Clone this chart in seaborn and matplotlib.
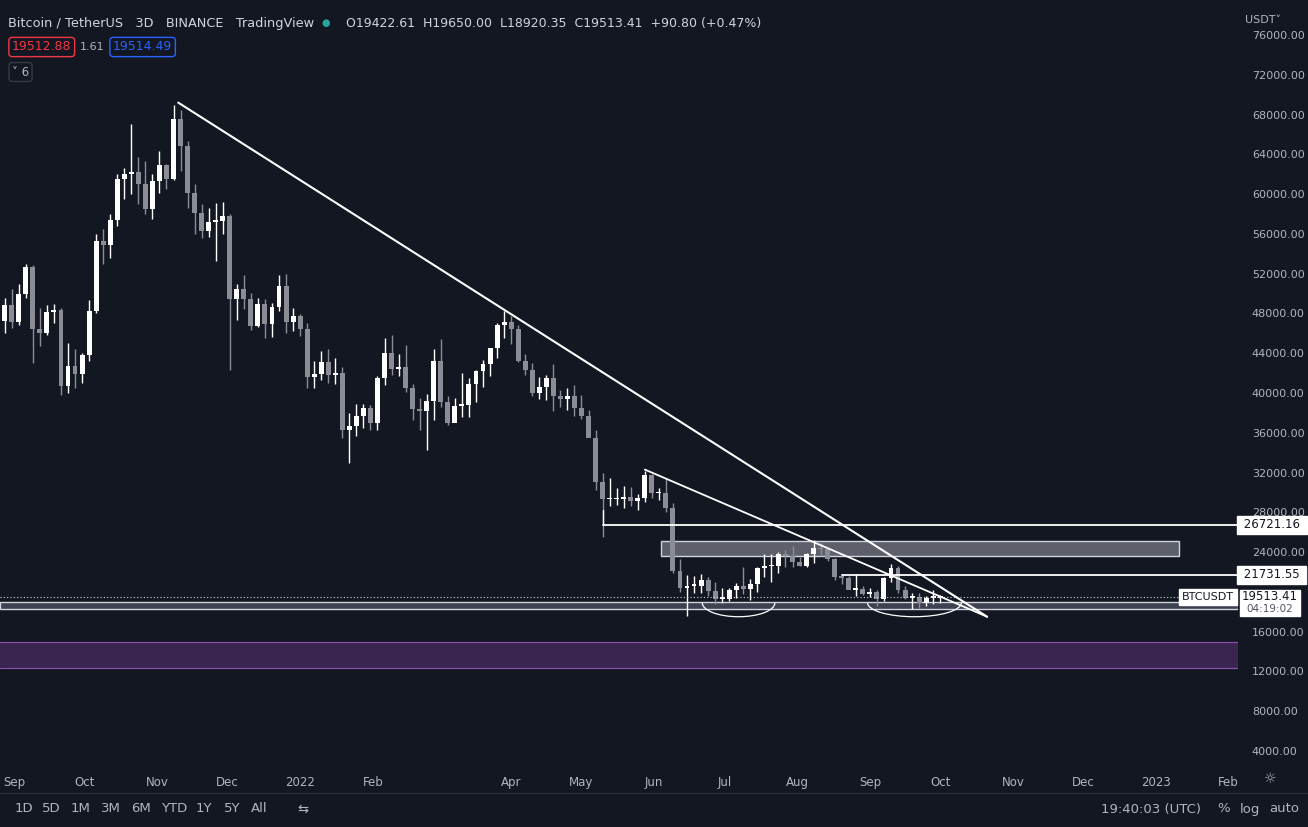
import numpy as np
import pandas as pd
import matplotlib
matplotlib.use("Agg")
import matplotlib.pyplot as plt
import matplotlib.dates as mdates
from matplotlib.patches import Arc, Rectangle
import seaborn as sns

# 3D BTCUSDT candles, values in thousands of USDT
closes = [48.8, 47.1, 50.0, 52.7, 46.4, 46.0, 48.1, 48.3, 40.7, 42.7, 41.9, 43.8, 48.2, 55.3, 54.9, 57.4,
          61.5, 62.0, 62.2, 61.0, 58.5, 61.3, 62.9, 61.5, 67.5, 64.8, 60.1, 58.1, 56.3, 57.2, 57.3, 57.8,
          49.4, 50.5, 49.4, 46.7, 48.9, 46.9, 48.6, 50.8, 47.1, 47.7, 46.4, 41.6, 41.9, 43.1, 41.8, 42.0,
          36.3, 36.7, 37.7, 38.5, 37.0, 41.5, 44.0, 42.4, 42.6, 40.5, 38.4, 38.2, 39.2, 43.2, 39.1, 37.0,
          38.7, 38.8, 40.9, 42.2, 42.9, 44.5, 46.8, 47.1, 46.4, 43.2, 42.3, 40.0, 40.6, 41.5, 39.7, 39.4,
          39.7, 38.5, 37.7, 35.5, 31.0, 29.3, 29.3, 29.3, 29.5, 29.1, 29.4, 31.8, 29.9, 29.9, 28.4, 22.1,
          20.4, 20.6, 20.6, 21.2, 20.1, 19.3, 19.3, 20.2, 20.6, 20.3, 20.8, 22.4, 22.6, 22.6, 23.8, 23.6,
          23.0, 22.6, 23.8, 24.4, 24.3, 23.3, 21.5, 21.4, 20.2, 20.3, 19.8, 20.0, 19.3, 21.4, 22.4, 20.2,
          19.4, 19.5, 18.9, 19.4, 19.4, 19.5]
highs = [49.5, 50.5, 51.0, 53.0, 52.9, 48.5, 48.8, 48.9, 48.5, 45.0, 44.4, 44.0, 49.3, 56.0, 56.5, 58.0,
         62.0, 62.6, 67.0, 63.7, 63.3, 62.0, 64.3, 63.0, 69.0, 68.5, 65.3, 61.0, 59.0, 58.6, 59.1, 59.2,
         58.0, 51.0, 51.9, 50.1, 49.5, 49.4, 49.0, 51.9, 52.0, 48.5, 47.9, 47.0, 43.2, 44.2, 44.4, 43.5,
         42.6, 38.0, 38.9, 38.9, 38.8, 41.7, 45.5, 45.8, 43.9, 44.8, 40.9, 39.5, 39.9, 44.4, 45.4, 39.7,
         39.5, 42.0, 41.5, 42.3, 43.3, 44.5, 47.0, 48.2, 47.7, 46.8, 43.9, 43.0, 41.6, 41.8, 42.9, 40.3,
         40.5, 40.8, 39.8, 38.3, 36.3, 32.0, 31.4, 30.4, 30.6, 30.5, 29.8, 32.2, 31.9, 30.4, 31.4, 28.9,
         23.3, 21.7, 21.6, 21.8, 21.5, 21.0, 20.4, 20.4, 20.9, 22.5, 21.3, 22.5, 23.8, 23.8, 24.0, 24.2,
         24.6, 23.5, 23.9, 25.2, 24.9, 24.4, 23.4, 21.8, 21.6, 21.8, 20.6, 20.4, 20.2, 21.5, 22.8, 22.6,
         20.6, 19.9, 19.9, 19.6, 20.2, 19.7]
lows = [46.0, 46.5, 46.8, 49.5, 43.0, 44.7, 45.8, 47.0, 39.8, 40.0, 40.5, 41.0, 43.2, 48.0, 53.0, 53.6,
        56.8, 59.5, 60.0, 59.0, 58.0, 57.5, 60.1, 60.5, 61.4, 62.3, 58.6, 56.0, 55.6, 55.7, 53.3, 56.0,
        42.3, 47.3, 48.4, 46.3, 46.6, 45.5, 45.6, 48.2, 46.0, 46.2, 45.7, 40.5, 40.5, 41.3, 41.0, 40.9,
        35.5, 33.0, 35.7, 36.5, 36.3, 36.3, 40.8, 41.8, 41.7, 40.1, 37.3, 36.3, 34.3, 37.3, 38.6, 36.8,
        37.1, 37.6, 37.6, 39.1, 40.6, 41.7, 43.5, 45.5, 44.9, 43.1, 41.8, 39.7, 39.4, 39.3, 38.2, 38.6,
        38.3, 37.7, 37.4, 35.6, 30.2, 25.5, 28.6, 28.7, 28.4, 28.6, 28.2, 29.0, 29.4, 29.2, 28.0, 21.9,
        20.0, 17.6, 19.9, 19.9, 19.6, 18.8, 18.9, 19.1, 19.4, 19.8, 19.2, 20.0, 21.5, 21.0, 21.9, 22.5,
        22.5, 22.6, 22.5, 22.9, 23.6, 23.1, 21.2, 20.8, 20.6, 19.6, 19.7, 19.5, 18.6, 19.1, 21.0, 19.9,
        19.3, 18.3, 18.4, 18.6, 18.8, 18.9]
start_date = "2021-08-28"
first_open = 47.2

# 20000 is hidden behind the last-price tag in the reference
price_ticks = [p for p in range(4000, 76001, 4000) if p != 20000]
month_ticks = ["2021-09-01", "2021-10-01", "2021-11-01", "2021-12-01", "2022-01-01", "2022-02-01",
               "2022-04-01", "2022-05-01", "2022-06-01", "2022-07-01", "2022-08-01", "2022-09-01",
               "2022-10-01", "2022-11-01", "2022-12-01", "2023-01-01", "2023-02-01"]
month_labels = ["Sep", "Oct", "Nov", "Dec", "2022", "Feb", "Apr", "May", "Jun", "Jul", "Aug", "Sep",
                "Oct", "Nov", "Dec", "2023", "Feb"]

BG = "#131722"
TXT = "#b2b5be"

df = pd.DataFrame({"date": pd.date_range(start_date, periods=len(closes), freq="3D"),
                   "close": np.array(closes) * 1000,
                   "high": np.array(highs) * 1000,
                   "low": np.array(lows) * 1000})
df["open"] = np.r_[first_open, closes[:-1]] * 1000
df["up"] = df["close"] >= df["open"]
df["x"] = mdates.date2num(df["date"])

sns.set_theme(style="dark", rc={"axes.facecolor": BG, "figure.facecolor": BG,
                                "text.color": TXT, "font.family": "DejaVu Sans"})
fig = plt.figure(figsize=(13.08, 8.27), dpi=100)
ax = fig.add_axes([0, 62 / 827, 1238 / 1308, 755 / 827])
ax.set_facecolor(BG)

cols = np.where(df["up"], "#ffffff", "#8a8d96")
ax.vlines(df["x"], df["low"], df["high"], colors=cols, lw=1, zorder=3)
ax.bar(df["x"], (df["close"] - df["open"]).abs().clip(lower=150),
       bottom=df[["open", "close"]].min(axis=1), width=2.1, color=cols, zorder=4, linewidth=0)

d = lambda s: mdates.date2num(pd.Timestamp(s))
x0, x1 = d("2021-08-26"), d("2023-02-05")
ax.set_xlim(x0, x1)
ax.set_ylim(2590, 78510)

# zones and lines
ax.axhspan(12300, 15000, color="#3a2450", zorder=1)
ax.axhline(15000, color="#8a4fb0", lw=0.8, zorder=1)
ax.axhline(12300, color="#8a4fb0", lw=0.8, zorder=1)
ax.add_patch(Rectangle((x0, 18300), x1 - x0, 700, fc="#3d4150", ec="#d1d4dc", lw=1, zorder=2))
ax.add_patch(Rectangle((d("2022-06-04"), 23600), d("2023-01-11") - d("2022-06-04"), 1500,
                       fc="#5d606b", ec="#d1d4dc", lw=1, zorder=2))
ax.axhline(19513, color="#d1d4dc", lw=0.8, ls=(0, (1, 2)), zorder=5)
ax.plot([d("2022-05-10"), x1], [26721, 26721], color="white", lw=1.3, zorder=5)
ax.plot([d("2022-05-10"), d("2022-05-10")], [26721, 28200], color="white", lw=1, zorder=5)
ax.plot([d("2022-08-20"), x1], [21731, 21731], color="white", lw=1.3, zorder=5)
ax.plot([d("2021-11-10"), d("2022-10-21")], [69200, 17500], color="white", lw=1.5, zorder=5)
ax.plot([d("2022-05-28"), d("2022-10-21")], [32300, 17500], color="white", lw=1.3, zorder=5)
ax.add_patch(Arc((d("2022-07-07"), 18900), 31, 2800, theta1=180, theta2=360, color="white", lw=0.9, zorder=5))
ax.add_patch(Arc((d("2022-09-20"), 18900), 40, 2800, theta1=180, theta2=360, color="white", lw=0.9, zorder=5))

# axes
ax.set_xticks([d(m) for m in month_ticks])
ax.set_xticklabels(month_labels)
ax.tick_params(axis="x", colors=TXT, labelsize=8.5, length=0, pad=8)
ax.yaxis.tick_right()
ax.set_yticks(price_ticks)
ax.set_yticklabels([f"{p}.00" for p in price_ticks])
ax.tick_params(axis="y", colors=TXT, labelsize=8, length=0, pad=10)
for s in ax.spines.values():
    s.set_visible(False)
ax.grid(False)

# right-side price labels
def tag(y, text, fc, tc, xpos=1240, size=8.5):
    fig.text(xpos / 1308, 1 - y / 827, text, fontsize=size, color=tc, va="center", ha="left",
             bbox=dict(boxstyle="square,pad=0.25", fc=fc, ec=fc))
tag(525, " 26721.16 ", "white", "#131722")
tag(575, " 21731.55 ", "white", "#131722")
fig.add_artist(Rectangle((1240 / 1308, 1 - 616 / 827), 60 / 1308, 26 / 827,
                         transform=fig.transFigure, fc="white", ec="white"))
fig.text(1270 / 1308, 1 - 597 / 827, "19513.41", fontsize=8.5, color="#131722", va="center", ha="center")
fig.text(1270 / 1308, 1 - 609 / 827, "04:19:02", fontsize=7.5, color="#50535e", va="center", ha="center")
tag(597, "BTCUSDT", "white", "#131722", xpos=1182, size=8)
fig.text(1245 / 1308, 1 - 20 / 827, "USDT˅", fontsize=8, color=TXT, va="center")

# header legend
fig.text(8 / 1308, 1 - 23 / 827, "Bitcoin / TetherUS   3D   BINANCE   TradingView", fontsize=9.3,
         color="#d1d4dc", va="center")
fig.text(321 / 1308, 1 - 23 / 827, "●", fontsize=7, color="#26a69a", va="center")
fig.text(346 / 1308, 1 - 23 / 827, "O19422.61  H19650.00  L18920.35  C19513.41  +90.80 (+0.47%)",
         fontsize=9, color="#d1d4dc", va="center")
fig.text(12 / 1308, 1 - 47 / 827, "19512.88", fontsize=9, color="#f23645", va="center",
         bbox=dict(boxstyle="round,pad=0.25", fc=BG, ec="#f23645"))
fig.text(80 / 1308, 1 - 47 / 827, "1.61", fontsize=8, color=TXT, va="center")
fig.text(113 / 1308, 1 - 47 / 827, "19514.49", fontsize=9, color="#2962ff", va="center",
         bbox=dict(boxstyle="round,pad=0.25", fc=BG, ec="#2962ff"))
fig.text(12 / 1308, 1 - 72 / 827, "˅ 6", fontsize=8.5, color=TXT, va="center",
         bbox=dict(boxstyle="round,pad=0.25", fc=BG, ec="#363a45"))

# bottom toolbar
fig.add_artist(plt.Line2D([0, 1], [1 - 793 / 827, 1 - 793 / 827], color="#2a2e39", lw=1))
for x, t in zip([15, 42, 71, 101, 131, 161, 196, 224, 251, 297],
                ["1D", "5D", "1M", "3M", "6M", "YTD", "1Y", "5Y", "All", "⇆"]):
    fig.text(x / 1308, 1 - 809 / 827, t, fontsize=9.5, color=TXT, va="center")
fig.text(1101 / 1308, 1 - 809 / 827, "19:40:03 (UTC)", fontsize=9.5, color=TXT, va="center")
for x, t in zip([1217, 1240, 1269], ["%", "log", "auto"]):
    fig.text(x / 1308, 1 - 809 / 827, t, fontsize=9.5, color=TXT, va="center")
fig.text(1264 / 1308, 1 - 779 / 827, "☼", fontsize=10, color=TXT, va="center")

fig.savefig("out.png", dpi=100, facecolor=BG)
